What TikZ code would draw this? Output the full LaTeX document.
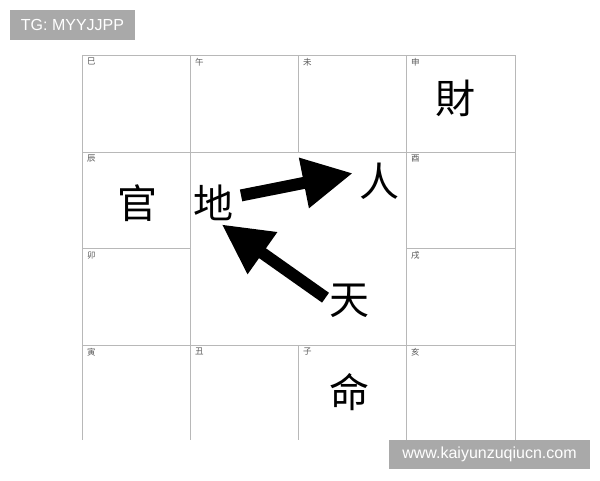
\documentclass[tikz,border=0pt]{standalone}
\usepackage{fontspec}
\setmainfont{Liberation Sans}
\newfontfamily\cjk{Noto Sans CJK SC}
\usetikzlibrary{arrows.meta}
\definecolor{gridgray}{HTML}{B8B8B8}
\definecolor{taggray}{HTML}{A9A9A9}
\tikzset{
  gridline/.style={draw=gridgray, line width=1pt},
  bigchar/.style={font=\cjk\fontsize{40}{40}\selectfont, inner sep=0pt, text height=35.2pt, text depth=4.8pt},
  branch/.style={font=\cjk\fontsize{8.5}{8.5}\selectfont, text=black!65, inner sep=0pt, anchor=north west},
  bigarrow/.style={line width=12pt, -{Triangle[length=50pt,width=48pt]}},
  tagbox/.style={fill=taggray, text=white, inner sep=0pt, font=\fontsize{16}{16}\selectfont}
}
\begin{document}
\begin{tikzpicture}[x=1pt, y=-1pt]
  \useasboundingbox (0,0) rectangle (600,480);
  % grid of the twelve palaces
  \draw[gridline] (82,55) -- (515,55);
  \draw[gridline] (82,152) -- (515,152);
  \draw[gridline] (82,248) -- (190,248);
  \draw[gridline] (406,248) -- (515,248);
  \draw[gridline] (82,345) -- (515,345);
  \foreach \x in {82,190,406,515}
    \draw[gridline] (\x,55) -- (\x,440);
  \draw[gridline] (298,55) -- (298,152);
  \draw[gridline] (298,345) -- (298,440);
  % branch labels
  \foreach \x/\y/\b [count=\i] in {82/55/巳, 190/55/午, 298/55/未, 406/55/申,
      82/152/辰, 406/152/酉, 82/248/卯, 406/248/戌,
      82/345/寅, 190/345/丑, 298/345/子, 406/345/亥}
    \node[branch] (br\i) at (\x+5,\y+3) {\b};
  % big characters
  \node[bigchar] (cai) at (455,98) {財};
  \node[bigchar] (guan) at (137,203) {官};
  \node[bigchar] (di) at (213,203) {地};
  \node[bigchar] (ren) at (379,181) {人};
  \node[bigchar] (tian) at (349,299) {天};
  \node[bigchar] (ming) at (349,392) {命};
  % arrows
  \draw[bigarrow, shorten <=8pt, shorten >=6pt] ([yshift=6pt]di.east) -- ([yshift=9pt]ren.west);
  \draw[bigarrow, shorten <=4pt, shorten >=2pt] ([yshift=-1pt]tian.west) -- ([xshift=7pt]di.south);
  % tags
  \node[tagbox, minimum width=125pt, minimum height=30pt] (tg) at (72.5,25) {TG: MYYJJPP};
  \node[tagbox, minimum width=201pt, minimum height=29pt] (site) at (489.5,454.5) {www.kaiyunzuqiucn.com};
\end{tikzpicture}
\end{document}
